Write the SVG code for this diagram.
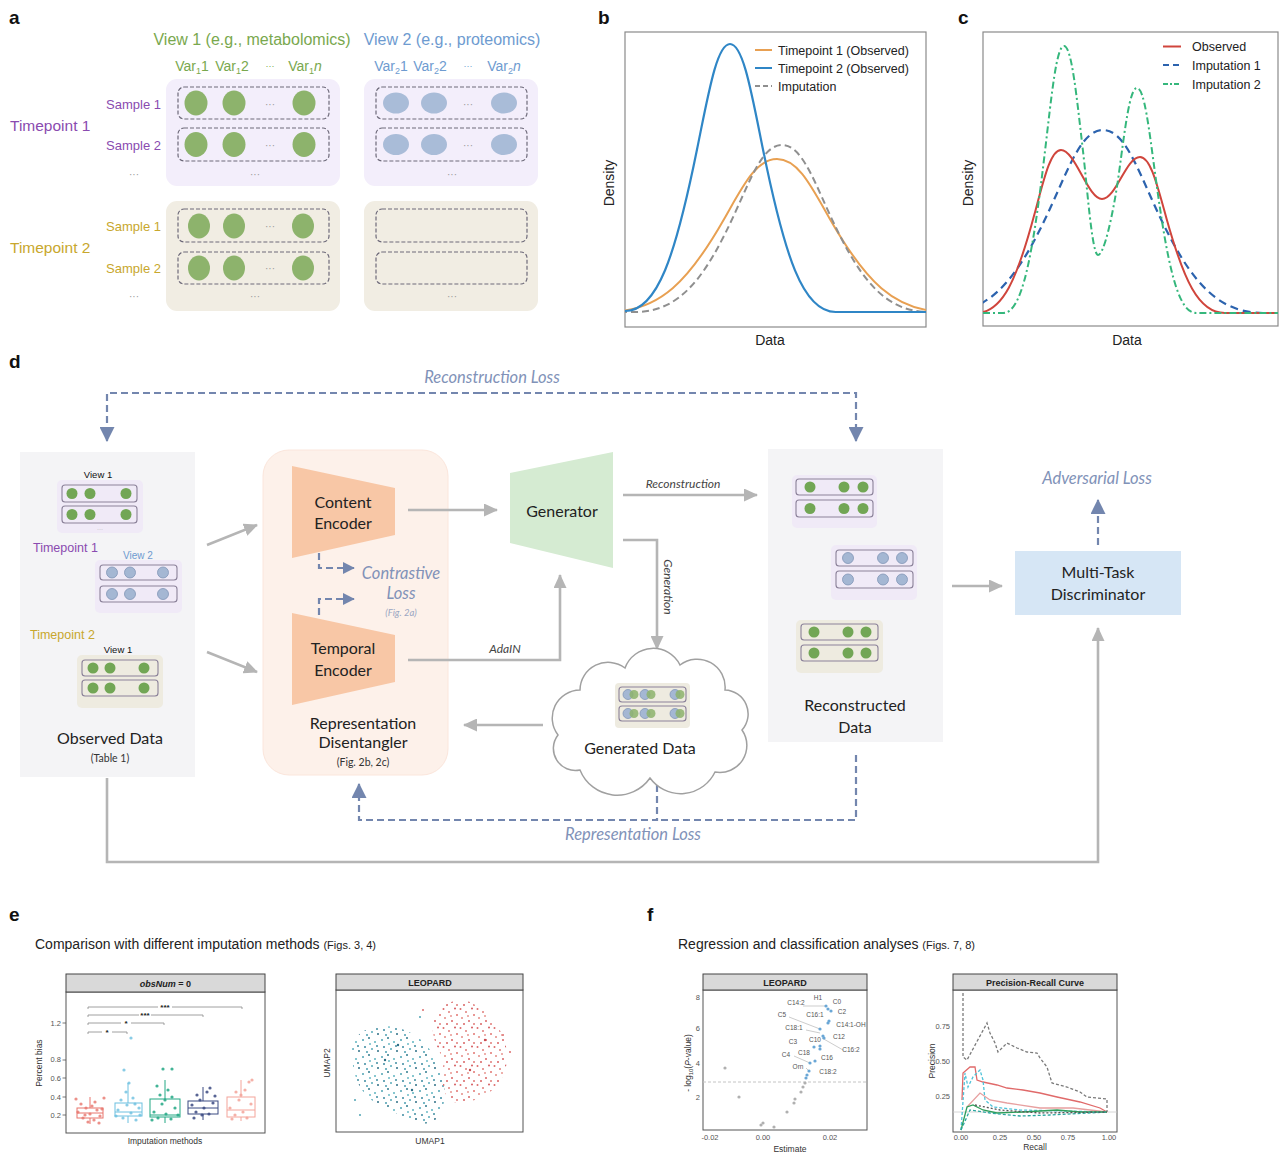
<svg xmlns="http://www.w3.org/2000/svg" width="1280" height="1159" viewBox="0 0 1280 1159">
<style>
text{font-family:"Liberation Sans",Arial,sans-serif;}
.pl{font-weight:bold;font-size:19px;fill:#111;}
.vt{font-size:16px;}
.var{font-size:14px;}
.smp{font-size:13px;text-anchor:end;}
.tp{font-size:15.5px;}
.dots{font-size:10px;fill:#999;text-anchor:middle;}
.bigbox{stroke:none;}
.row{fill:none;stroke:#6e6a7a;stroke-width:1.2;stroke-dasharray:4 2;}
.cg{fill:#8db36c;}
.cb{fill:#a9bcd8;}
.axl{font-size:14px;fill:#222;text-anchor:middle;}
.leg{font-size:12.5px;fill:#222;}
.frame{fill:none;stroke:#8a8a8a;stroke-width:1.2;}
.dd{font-family:Lato,"Open Sans",sans-serif;font-size:16px;fill:#222;text-anchor:middle;}
.ds{font-family:Lato,"Open Sans",sans-serif;font-size:10.5px;fill:#333;text-anchor:middle;}
.loss{font-family:Lato,"Open Sans",sans-serif;font-style:italic;font-size:16.5px;fill:#8192b8;text-anchor:middle;}
.lab{font-family:Lato,"Open Sans",sans-serif;font-style:italic;font-size:12px;fill:#444;text-anchor:middle;}
.gc{fill:none;stroke:#b5b5b5;stroke-width:2.6;}
.dc{fill:none;stroke:#7386ae;stroke-width:2.2;stroke-dasharray:7 4;}
.mL{fill:#f0eaf7;}
.mB{fill:#eeebe0;}
.mr{fill:none;stroke:#8b8199;stroke-width:1.1;}
.mg{fill:#72a655;}
.mbl{fill:#a4b7d3;stroke:#8196b6;stroke-width:0.8;}
.tiny{font-size:9.5px;fill:#111;text-anchor:middle;}
.tick{font-size:7.5px;fill:#555;}
.strip{fill:#d9d9d9;stroke:#444;stroke-width:1;}
.pf{fill:#fff;stroke:#555;stroke-width:1;}
.st{font-size:9px;font-weight:bold;fill:#222;text-anchor:middle;}
.vl{font-size:6.5px;fill:#555;text-anchor:middle;}
</style>
<defs>
<marker id="ag" viewBox="0 0 14 13" refX="13" refY="6.5" markerWidth="14" markerHeight="13" markerUnits="userSpaceOnUse" orient="auto"><path d="M0,0 L14,6.5 L0,13 z" fill="#b5b5b5"/></marker>
<marker id="ad" viewBox="0 0 14 14" refX="13" refY="7" markerWidth="15" markerHeight="15" markerUnits="userSpaceOnUse" orient="auto"><path d="M0,0 L14,7 L0,14 z" fill="#7386ae"/></marker>
<marker id="ads" viewBox="0 0 14 14" refX="13" refY="7" markerWidth="12" markerHeight="12" markerUnits="userSpaceOnUse" orient="auto"><path d="M0,0 L14,7 L0,14 z" fill="#7386ae"/></marker>
<clipPath id="cb"><rect x="625" y="32" width="301" height="295"/></clipPath>
<clipPath id="cc"><rect x="983" y="32" width="295" height="294"/></clipPath>
<pattern id="pt" width="19" height="17" patternUnits="userSpaceOnUse"><circle cx="2" cy="3" r="1" fill="#4fa3b3"/><circle cx="8" cy="1" r="1" fill="#2f7a8e"/><circle cx="14" cy="5" r="1" fill="#5fb4c0"/><circle cx="4" cy="10" r="1" fill="#3a8aa0"/><circle cx="11" cy="12" r="1" fill="#56aab8"/><circle cx="17" cy="14" r="1" fill="#2d6e86"/><circle cx="9" cy="7" r="1" fill="#6bbac6"/><circle cx="16" cy="9" r="1" fill="#3f8ea2"/><circle cx="6" cy="15" r="1" fill="#4a9db0"/></pattern>
<pattern id="pr" width="17" height="19" patternUnits="userSpaceOnUse"><circle cx="1.5" cy="2" r="1" fill="#dd6b6b"/><circle cx="7" cy="5" r="1" fill="#e07d7b"/><circle cx="13" cy="1.5" r="1" fill="#d45a5e"/><circle cx="3" cy="11" r="1" fill="#e58b86"/><circle cx="10" cy="14" r="1" fill="#d96566"/><circle cx="15" cy="8" r="1" fill="#e27470"/><circle cx="9" cy="9" r="1" fill="#e89590"/><circle cx="5" cy="17" r="1" fill="#d86262"/><circle cx="15" cy="17" r="1" fill="#e07a78"/></pattern>
</defs>
<rect width="1280" height="1159" fill="#fff"/>

<!-- Panel a -->
<g id="panel-a">
<text class="pl" x="9" y="24">a</text>
<text class="vt" x="252" y="45" text-anchor="middle" fill="#79a84e">View 1 (e.g., metabolomics)</text>
<text class="vt" x="452" y="45" text-anchor="middle" fill="#6e9bd0">View 2 (e.g., proteomics)</text>
<g class="var" fill="#79a84e" text-anchor="middle">
<text x="192" y="71">Var<tspan font-size="9" dy="3">1</tspan><tspan dy="-3">1</tspan></text>
<text x="232" y="71">Var<tspan font-size="9" dy="3">1</tspan><tspan dy="-3">2</tspan></text>
<text x="270" y="69" font-size="9">···</text>
<text x="305" y="71">Var<tspan font-size="9" dy="3">1</tspan><tspan dy="-3" font-style="italic">n</tspan></text>
</g>
<g class="var" fill="#6e9bd0" text-anchor="middle">
<text x="391" y="71">Var<tspan font-size="9" dy="3">2</tspan><tspan dy="-3">1</tspan></text>
<text x="430" y="71">Var<tspan font-size="9" dy="3">2</tspan><tspan dy="-3">2</tspan></text>
<text x="468" y="69" font-size="9">···</text>
<text x="504" y="71">Var<tspan font-size="9" dy="3">2</tspan><tspan dy="-3" font-style="italic">n</tspan></text>
</g>
<text class="tp" x="10" y="131" fill="#8a4bb0">Timepoint 1</text>
<text class="tp" x="10" y="253" fill="#c8a72d">Timepoint 2</text>
<g fill="#8a4bb0"><text class="smp" x="161" y="109">Sample 1</text><text class="smp" x="161" y="150">Sample 2</text></g>
<g fill="#c8a72d"><text class="smp" x="161" y="231">Sample 1</text><text class="smp" x="161" y="273">Sample 2</text></g>
<text class="dots" x="134" y="178">···</text>
<text class="dots" x="134" y="300">···</text>
<rect class="bigbox" x="166" y="79" width="174" height="107" rx="11" fill="#f3eefb"/>
<rect class="bigbox" x="364" y="79" width="174" height="107" rx="11" fill="#f3eefb"/>
<rect class="bigbox" x="166" y="201" width="174" height="110" rx="11" fill="#f1ede3"/>
<rect class="bigbox" x="364" y="201" width="174" height="110" rx="11" fill="#f1ede3"/>
<rect class="row" x="178" y="87" width="151" height="32" rx="6"/>
<rect class="row" x="178" y="128" width="151" height="33" rx="6"/>
<rect class="row" x="376" y="87" width="151" height="32" rx="6"/>
<rect class="row" x="376" y="128" width="151" height="33" rx="6"/>
<rect class="row" x="178" y="209" width="151" height="33" rx="6"/>
<rect class="row" x="178" y="252" width="151" height="32" rx="6"/>
<rect class="row" x="376" y="209" width="151" height="33" rx="6"/>
<rect class="row" x="376" y="252" width="151" height="32" rx="6"/>
<g class="cg">
<ellipse cx="196" cy="103" rx="11.5" ry="12.5"/><ellipse cx="234" cy="103" rx="11.5" ry="12.5"/><ellipse cx="304" cy="103" rx="11.5" ry="12.5"/>
<ellipse cx="196" cy="144.5" rx="11.5" ry="12.5"/><ellipse cx="234" cy="144.5" rx="11.5" ry="12.5"/><ellipse cx="304" cy="144.5" rx="11.5" ry="12.5"/>
<ellipse cx="199" cy="226" rx="11" ry="12.5"/><ellipse cx="234" cy="226" rx="11" ry="12.5"/><ellipse cx="303" cy="226" rx="11" ry="12.5"/>
<ellipse cx="199" cy="268" rx="11" ry="12.5"/><ellipse cx="234" cy="268" rx="11" ry="12.5"/><ellipse cx="303" cy="268" rx="11" ry="12.5"/>
</g>
<g class="cb">
<ellipse cx="396" cy="103" rx="13" ry="10.5"/><ellipse cx="434" cy="103" rx="13" ry="10.5"/><ellipse cx="504" cy="103" rx="13" ry="10.5"/>
<ellipse cx="396" cy="144.5" rx="13" ry="10.5"/><ellipse cx="434" cy="144.5" rx="13" ry="10.5"/><ellipse cx="504" cy="144.5" rx="13" ry="10.5"/>
</g>
<text class="dots" x="270" y="108">···</text><text class="dots" x="270" y="149">···</text>
<text class="dots" x="270" y="230">···</text><text class="dots" x="270" y="272">···</text>
<text class="dots" x="468" y="108">···</text><text class="dots" x="468" y="149">···</text>
<text class="dots" x="255" y="178">···</text><text class="dots" x="452" y="178">···</text>
<text class="dots" x="255" y="300">···</text><text class="dots" x="452" y="300">···</text>
</g>

<!-- Panel b -->
<g id="panel-b">
<text class="pl" x="598" y="24">b</text>
<rect class="frame" x="625" y="32" width="301" height="295"/>
<text class="axl" transform="translate(614,183) rotate(-90)">Density</text>
<text class="axl" x="770" y="345">Data</text>
<g clip-path="url(#cb)">
<path d="M607.4,312 C660.4,312 689.6,279.5 724,219.2 C742.6,186.7 755.8,159 777,159 C798.2,159 811.5,186.7 830,219.2 C864.5,279.5 893.6,312 946.6,312" fill="none" stroke="#e8a052" stroke-width="2"/>
<path d="M620,312 L634.8,312 C680.8,312 706.1,276.5 736,210.7 C752.1,175.3 763.6,145 782,145 C800.4,145 811.9,175.3 828,210.7 C857.9,276.5 883.2,312 929.2,312" fill="none" stroke="#8f8f8f" stroke-width="2" stroke-dasharray="7 4"/>
<path d="M620,311 L624.4,311 C657.4,312 675.6,255.1 697,149.5 C708.6,92.6 716.8,44 730,44 C743.2,44 751.5,92.6 763,149.5 C784.5,255.1 802.6,312 835.6,312 L930,312" fill="none" stroke="#2f86c6" stroke-width="2.2"/>
</g>
<line x1="755" y1="50" x2="772" y2="50" stroke="#e8a052" stroke-width="2"/>
<line x1="755" y1="68" x2="772" y2="68" stroke="#2f86c6" stroke-width="2"/>
<line x1="755" y1="86" x2="772" y2="86" stroke="#8f8f8f" stroke-width="2" stroke-dasharray="5 3"/>
<text class="leg" x="778" y="54.5">Timepoint 1 (Observed)</text>
<text class="leg" x="778" y="72.5">Timepoint 2 (Observed)</text>
<text class="leg" x="778" y="90.5">Imputation</text>
</g>

<!-- Panel c -->
<g id="panel-c">
<text class="pl" x="958" y="24">c</text>
<rect class="frame" x="983" y="32" width="295" height="294"/>
<text class="axl" transform="translate(973,183) rotate(-90)">Density</text>
<text class="axl" x="1127" y="345">Data</text>
<g clip-path="url(#cc)">
<path d="M943,313 C993,313 1020.5,274.1 1053,202 C1070.5,163.2 1083,130 1103,130 C1123,130 1135.5,163.2 1153,202 C1185.5,274.1 1213,313 1263,313 L1280,313" fill="none" stroke="#2c63ae" stroke-width="2.2" stroke-dasharray="8 5"/>
<path d="M976,313 C1002.7,313 1017.3,278.4 1034.5,214.1 C1043.8,179.5 1050.4,150 1061,150 C1075,150 1088,199 1102,199 C1116,199 1126,157 1140,157 C1150.6,157 1157.2,185.3 1166.5,218.4 C1183.7,279.9 1198.3,313 1224.8,313 L1280,313" fill="none" stroke="#d0453c" stroke-width="2"/>
<path d="M983,313 L1003.2,313 C1022.2,313 1032.7,256.3 1045,151.1 C1051.7,94.4 1056.4,46 1064,46 C1071.6,46 1076.4,94.4 1083,151.1 C1087,185 1092,255 1098,255 C1104,255 1113,215 1118.5,176.5 C1125,128.8 1129.6,88 1137,88 C1144.4,88 1149,128.8 1155.5,176.5 C1167.5,265.2 1177.7,313 1196.2,313 L1280,313" fill="none" stroke="#35b77c" stroke-width="2" stroke-dasharray="7 3 2 3"/>
</g>
<line x1="1163" y1="46.5" x2="1181" y2="46.5" stroke="#d0453c" stroke-width="2"/>
<line x1="1163" y1="65" x2="1181" y2="65" stroke="#2c63ae" stroke-width="2" stroke-dasharray="6 4"/>
<line x1="1163" y1="84" x2="1181" y2="84" stroke="#35b77c" stroke-width="2" stroke-dasharray="5 2 2 2"/>
<text class="leg" x="1192" y="51">Observed</text>
<text class="leg" x="1192" y="69.5">Imputation 1</text>
<text class="leg" x="1192" y="88.5">Imputation 2</text>
</g>

<!-- Panel d -->
<text class="pl" x="9" y="368">d</text>
<text class="loss" x="492" y="383">Reconstruction Loss</text>

<g id="observed-data">
<rect x="20" y="452" width="175" height="325" fill="#f4f4f6"/>
<text class="tiny" x="98" y="477.5">View 1</text>
<rect class="mL" x="57" y="480" width="86" height="53" rx="5"/>
<rect class="mr" x="62" y="485" width="75" height="17" rx="3"/><rect class="mr" x="62" y="506" width="75" height="17" rx="3"/>
<g class="mg"><circle cx="72" cy="493.5" r="5.5"/><circle cx="90" cy="493.5" r="5.5"/><circle cx="126" cy="493.5" r="5.5"/><circle cx="72" cy="514.5" r="5.5"/><circle cx="90" cy="514.5" r="5.5"/><circle cx="126" cy="514.5" r="5.5"/></g>
<text x="100" y="531" font-size="6" fill="#aaa" text-anchor="middle">···</text>
<text x="33" y="552" font-size="12.5" fill="#8a4bb0">Timepoint 1</text>
<text x="138" y="558.5" font-size="10" fill="#6e9bd0" text-anchor="middle">View 2</text>
<rect class="mL" x="95" y="560" width="87" height="53" rx="5"/>
<rect class="mr" x="100" y="565" width="77" height="15" rx="3"/><rect class="mr" x="100" y="586" width="77" height="16" rx="3"/>
<g class="mbl"><circle cx="112" cy="572.5" r="5.5"/><circle cx="130" cy="572.5" r="5.5"/><circle cx="163" cy="572.5" r="5.5"/><circle cx="112" cy="594" r="5.5"/><circle cx="130" cy="594" r="5.5"/><circle cx="163" cy="594" r="5.5"/></g>
<text x="30" y="639" font-size="12.5" fill="#c8a72d">Timepoint 2</text>
<text class="tiny" x="118" y="652.5">View 1</text>
<rect class="mB" x="77" y="655" width="86" height="53" rx="5"/>
<rect class="mr" x="82" y="660" width="76" height="16" rx="3"/><rect class="mr" x="82" y="680" width="76" height="16" rx="3"/>
<g class="mg"><circle cx="93" cy="668" r="5.5"/><circle cx="110" cy="668" r="5.5"/><circle cx="144" cy="668" r="5.5"/><circle cx="93" cy="688" r="5.5"/><circle cx="110" cy="688" r="5.5"/><circle cx="144" cy="688" r="5.5"/></g>
<text class="dd" x="110" y="743.5">Observed Data</text>
<text class="ds" x="110" y="761.5">(Table 1)</text>
</g>

<g id="representation-disentangler">
<rect x="263" y="450" width="185" height="325" rx="26" fill="#fdf1ea" stroke="#fbe6dc" stroke-width="1"/>
<text class="dd" x="363" y="728.5">Representation</text>
<text class="dd" x="363" y="747.5">Disentangler</text>
<text class="ds" x="363" y="765.5">(Fig. 2b, 2c)</text>
</g>

<g id="reconstructed-data">
<rect x="768" y="449" width="175" height="293" fill="#f4f4f6"/>
<rect class="mL" x="792" y="475" width="85" height="53" rx="5"/>
<rect class="mr" x="796" y="479" width="77" height="16" rx="3"/><rect class="mr" x="796" y="500" width="77" height="17" rx="3"/>
<g class="mg"><circle cx="810" cy="487" r="5.5"/><circle cx="844" cy="487" r="5.5"/><circle cx="863" cy="487" r="5.5"/><circle cx="810" cy="508.5" r="5.5"/><circle cx="844" cy="508.5" r="5.5"/><circle cx="863" cy="508.5" r="5.5"/></g>
<rect class="mL" x="831" y="545" width="86" height="55" rx="5"/>
<rect class="mr" x="836" y="550" width="77" height="16" rx="3"/><rect class="mr" x="836" y="571" width="77" height="17" rx="3"/>
<g class="mbl"><circle cx="848" cy="558" r="5.5"/><circle cx="883" cy="558" r="5.5"/><circle cx="902" cy="558" r="5.5"/><circle cx="848" cy="579.5" r="5.5"/><circle cx="883" cy="579.5" r="5.5"/><circle cx="902" cy="579.5" r="5.5"/></g>
<rect class="mB" x="796" y="620" width="87" height="53" rx="5"/>
<rect class="mr" x="801" y="624" width="77" height="16" rx="3"/><rect class="mr" x="801" y="645" width="77" height="16" rx="3"/>
<g class="mg"><circle cx="814" cy="632" r="5.5"/><circle cx="848" cy="632" r="5.5"/><circle cx="866" cy="632" r="5.5"/><circle cx="814" cy="653" r="5.5"/><circle cx="848" cy="653" r="5.5"/><circle cx="866" cy="653" r="5.5"/></g>
<text class="dd" x="855" y="710.5">Reconstructed</text>
<text class="dd" x="855" y="732.5">Data</text>
</g>

<g id="connectors">
<path class="dc" d="M480,393 L107,393 L107,441" marker-end="url(#ad)"/>
<path class="dc" d="M480,393 L856,393 L856,441" marker-end="url(#ad)"/>
<path class="dc" d="M657,785 L657,820 L359,820 L359,784" marker-end="url(#ad)"/>
<path class="dc" d="M856,755 L856,820 L657,820"/>
<path class="dc" d="M1098,545 L1098,500" marker-end="url(#ad)"/>
<path class="dc" d="M319,553 L319,568 L354,568" marker-end="url(#ads)"/>
<path class="dc" d="M319,615 L319,599 L354,599" marker-end="url(#ads)"/>
<path class="gc" d="M107,778 L107,862 L1098,862 L1098,628" marker-end="url(#ag)"/>
<path class="gc" d="M207,545 L257,525" marker-end="url(#ag)"/>
<path class="gc" d="M207,652 L257,672" marker-end="url(#ag)"/>
<path class="gc" d="M408,510 L497,510" marker-end="url(#ag)"/>
<path class="gc" d="M408,660 L560,660 L560,575" marker-end="url(#ag)"/>
<path class="gc" d="M623,495 L757,495" marker-end="url(#ag)"/>
<path class="gc" d="M623,540 L657,540 L657,649" marker-end="url(#ag)"/>
<path class="gc" d="M543,725 L464,725" marker-end="url(#ag)"/>
<path class="gc" d="M952,586 L1002,586" marker-end="url(#ag)"/>
<text class="lab" x="683" y="488">Reconstruction</text>
<text class="lab" x="505" y="653">AdaIN</text>
<text class="lab" transform="translate(664,587) rotate(90)">Generation</text>
<text class="loss" x="401" y="579">Contrastive</text>
<text class="loss" x="401" y="599">Loss</text>
<text class="loss" x="401" y="616" style="font-size:9.5px;fill:#9aa6c2">(Fig. 2a)</text>
<text class="loss" x="633" y="840">Representation Loss</text>
<text class="loss" x="1097" y="484">Adversarial Loss</text>
</g>

<g id="content-encoder">
<polygon points="292,466 395,488 395,535 292,558" fill="#f8c7a6"/>
<text class="dd" x="343" y="507.5">Content</text>
<text class="dd" x="343" y="528.5">Encoder</text>
</g>
<g id="temporal-encoder">
<polygon points="292,613 395,635 395,682 292,705" fill="#f8c7a6"/>
<text class="dd" x="343" y="653.5">Temporal</text>
<text class="dd" x="343" y="675.5">Encoder</text>
</g>
<g id="generator">
<polygon points="510,473 613,452 613,568 510,543" fill="#d5ebd2"/>
<text class="dd" x="562" y="516.5">Generator</text>
</g>
<g id="generated-data">
<path d="M580,770 A22,22 0 0 1 558,735 A28,28 0 0 1 580,690 A28,28 0 0 1 625,668 A30,30 0 0 1 680,665 A28,28 0 0 1 725,690 A24,24 0 0 1 742,730 A27,27 0 0 1 715,772 A38,38 0 0 1 650,778 A40,40 0 0 1 580,770 Z" fill="#fff" stroke="#a0a0a0" stroke-width="1.5"/>
<rect class="mB" x="615" y="683" width="75" height="45" rx="4"/>
<rect class="mr" x="619" y="687" width="67" height="15" rx="3"/><rect class="mr" x="619" y="706" width="67" height="15" rx="3"/>
<g class="mbl"><circle cx="628" cy="694.5" r="5"/><circle cx="645" cy="694.5" r="5"/><circle cx="675" cy="694.5" r="5"/><circle cx="628" cy="713.5" r="5"/><circle cx="645" cy="713.5" r="5"/><circle cx="675" cy="713.5" r="5"/></g>
<g fill="#8db36c" opacity="0.85"><circle cx="634" cy="694.5" r="4.5"/><circle cx="651" cy="694.5" r="4.5"/><circle cx="680" cy="694.5" r="4.5"/><circle cx="634" cy="713.5" r="4.5"/><circle cx="651" cy="713.5" r="4.5"/><circle cx="680" cy="713.5" r="4.5"/></g>
<text class="dd" x="640" y="753.5">Generated Data</text>
</g>
<g id="multi-task-discriminator">
<rect x="1015" y="551" width="166" height="64" fill="#d6e6f5"/>
<text class="dd" x="1098" y="577.5">Multi-Task</text>
<text class="dd" x="1098" y="599.5">Discriminator</text>
</g>

<!-- Panel e -->
<g id="panel-e">
<text class="pl" x="9" y="921">e</text>
<text x="35" y="949" font-size="14" fill="#222">Comparison with different imputation methods <tspan font-size="11">(Figs. 3, 4)</tspan></text>
<rect class="pf" x="66" y="992" width="199" height="141"/>
<rect class="strip" x="66" y="974" width="199" height="18"/>
<text class="st" x="165.5" y="987"><tspan font-style="italic">obsNum</tspan> = 0</text>
<g class="tick" text-anchor="end"><text x="61" y="1026">1.2</text><text x="61" y="1062">0.8</text><text x="61" y="1081">0.6</text><text x="61" y="1100">0.4</text><text x="61" y="1118">0.2</text></g>
<g stroke="#555" stroke-width="0.8"><line x1="62.5" y1="1023" x2="66" y2="1023"/><line x1="62.5" y1="1060" x2="66" y2="1060"/><line x1="62.5" y1="1078" x2="66" y2="1078"/><line x1="62.5" y1="1097" x2="66" y2="1097"/><line x1="62.5" y1="1115" x2="66" y2="1115"/></g>
<text transform="translate(42,1063) rotate(-90)" font-size="8.5" fill="#333" text-anchor="middle">Percent bias</text>
<text x="165" y="1144" font-size="8.5" fill="#333" text-anchor="middle">Imputation methods</text>
<g stroke="#888" stroke-width="0.8" fill="none">
<path d="M88,1009 V1007 H158 M172,1007 H242 V1009"/>
<path d="M88,1017 V1015 H139 M151,1015 H203 V1017"/>
<path d="M88,1025 V1023 H121 M131,1023 H164 V1025"/>
<path d="M88,1034 V1032 H102 M112,1032 H127 V1034"/>
</g>
<g font-size="8" font-weight="bold" fill="#222" text-anchor="middle"><text x="165" y="1010">***</text><text x="145" y="1018">***</text><text x="126" y="1026">*</text><text x="107" y="1035">*</text></g>
<g fill="none" stroke-width="1">
<g stroke="#e8756c"><rect x="77" y="1108" width="26" height="10"/><line x1="77" y1="1113" x2="103" y2="1113"/><line x1="90" y1="1108" x2="90" y2="1097"/><line x1="90" y1="1118" x2="90" y2="1124"/></g>
<g stroke="#6cc0e0"><rect x="115" y="1103" width="27" height="13"/><line x1="115" y1="1112" x2="142" y2="1112"/><line x1="128" y1="1103" x2="128" y2="1083"/><line x1="128" y1="1116" x2="128" y2="1123"/></g>
<g stroke="#22a884"><rect x="150" y="1099" width="30" height="18"/><line x1="150" y1="1115" x2="180" y2="1115"/><line x1="165" y1="1099" x2="165" y2="1080"/><line x1="165" y1="1117" x2="165" y2="1123"/></g>
<g stroke="#3b4a82"><rect x="188" y="1101" width="30" height="13"/><line x1="188" y1="1108" x2="218" y2="1108"/><line x1="203" y1="1101" x2="203" y2="1087"/><line x1="203" y1="1114" x2="203" y2="1120"/></g>
<g stroke="#f4a49a"><rect x="227" y="1097" width="28" height="20"/><line x1="227" y1="1110" x2="255" y2="1110"/><line x1="241" y1="1097" x2="241" y2="1080"/><line x1="241" y1="1117" x2="241" y2="1121"/></g>
</g>
<g fill="#e8756c" opacity="0.8"><circle cx="78" cy="1112" r="1.6"/><circle cx="83" cy="1118" r="1.6"/><circle cx="86" cy="1108" r="1.6"/><circle cx="90" cy="1114" r="1.6"/><circle cx="94" cy="1120" r="1.6"/><circle cx="97" cy="1110" r="1.6"/><circle cx="100" cy="1116" r="1.6"/><circle cx="81" cy="1104" r="1.6"/><circle cx="88" cy="1122" r="1.6"/><circle cx="95" cy="1102" r="1.6"/><circle cx="102" cy="1109" r="1.6"/><circle cx="76" cy="1099" r="1.6"/><circle cx="92" cy="1106" r="1.6"/><circle cx="85" cy="1115" r="1.6"/><circle cx="99" cy="1123" r="1.6"/><circle cx="104" cy="1098" r="1.6"/></g>
<g fill="#6cc0e0" opacity="0.8"><circle cx="118" cy="1110" r="1.6"/><circle cx="123" cy="1118" r="1.6"/><circle cx="127" cy="1105" r="1.6"/><circle cx="131" cy="1113" r="1.6"/><circle cx="136" cy="1120" r="1.6"/><circle cx="139" cy="1108" r="1.6"/><circle cx="121" cy="1100" r="1.6"/><circle cx="126" cy="1092" r="1.6"/><circle cx="133" cy="1098" r="1.6"/><circle cx="129" cy="1083" r="1.6"/><circle cx="124" cy="1070" r="1.6"/><circle cx="131" cy="1038" r="1.6"/><circle cx="116" cy="1116" r="1.6"/><circle cx="140" cy="1115" r="1.6"/><circle cx="135" cy="1104" r="1.6"/></g>
<g fill="#22a884" opacity="0.85"><circle cx="154" cy="1112" r="1.6"/><circle cx="158" cy="1118" r="1.6"/><circle cx="162" cy="1104" r="1.6"/><circle cx="166" cy="1114" r="1.6"/><circle cx="171" cy="1119" r="1.6"/><circle cx="175" cy="1108" r="1.6"/><circle cx="160" cy="1095" r="1.6"/><circle cx="168" cy="1090" r="1.6"/><circle cx="172" cy="1097" r="1.6"/><circle cx="157" cy="1086" r="1.6"/><circle cx="163" cy="1069" r="1.6"/><circle cx="172" cy="1069" r="1.6"/><circle cx="178" cy="1115" r="1.6"/><circle cx="152" cy="1120" r="1.6"/><circle cx="165" cy="1100" r="1.6"/></g>
<g fill="#3b4a82" opacity="0.85"><circle cx="192" cy="1105" r="1.6"/><circle cx="196" cy="1112" r="1.6"/><circle cx="200" cy="1100" r="1.6"/><circle cx="204" cy="1108" r="1.6"/><circle cx="209" cy="1114" r="1.6"/><circle cx="213" cy="1103" r="1.6"/><circle cx="197" cy="1095" r="1.6"/><circle cx="207" cy="1092" r="1.6"/><circle cx="215" cy="1096" r="1.6"/><circle cx="194" cy="1118" r="1.6"/><circle cx="210" cy="1088" r="1.6"/><circle cx="202" cy="1115" r="1.6"/></g>
<g fill="#f4a49a" opacity="0.85"><circle cx="230" cy="1108" r="1.6"/><circle cx="235" cy="1115" r="1.6"/><circle cx="239" cy="1100" r="1.6"/><circle cx="243" cy="1112" r="1.6"/><circle cx="247" cy="1118" r="1.6"/><circle cx="251" cy="1104" r="1.6"/><circle cx="236" cy="1092" r="1.6"/><circle cx="245" cy="1090" r="1.6"/><circle cx="249" cy="1082" r="1.6"/><circle cx="252" cy="1080" r="1.6"/><circle cx="232" cy="1119" r="1.6"/><circle cx="241" cy="1095" r="1.6"/></g>

<rect class="pf" x="336" y="990" width="187" height="142"/>
<rect class="strip" x="336" y="974" width="187" height="16"/>
<text class="st" x="430" y="985.5">LEOPARD</text>
<text transform="translate(330,1063) rotate(-90)" font-size="8.5" fill="#333" text-anchor="middle">UMAP2</text>
<text x="430" y="1144" font-size="8.5" fill="#333" text-anchor="middle">UMAP1</text>
<path d="M352,1052 C352,1032 372,1023 395,1027 C418,1032 432,1048 440,1068 C448,1090 446,1118 430,1123 C412,1127 398,1112 382,1106 C363,1098 352,1080 352,1052 Z" fill="url(#pt)"/>
<path d="M433,1025 C436,1005 455,996 470,1002 C490,1011 509,1035 507,1060 C505,1085 486,1100 462,1103 C443,1105 440,1082 444,1062 C440,1050 431,1040 433,1025 Z" fill="url(#pr)"/>
<g fill="#4fa3b3"><circle cx="355" cy="1100" r="1"/><circle cx="420" cy="1017" r="1"/><circle cx="360" cy="1115" r="1"/><circle cx="385" cy="1060" r="1.2" fill="#2d6e86"/><circle cx="412" cy="1090" r="1.2" fill="#2d6e86"/><circle cx="398" cy="1045" r="1.2" fill="#2d6e86"/></g>
<g fill="#dd6b6b"><circle cx="503" cy="1035" r="1"/><circle cx="510" cy="1052" r="1"/><circle cx="423" cy="1010" r="1"/><circle cx="470" cy="1070" r="1.2" fill="#c94b50"/><circle cx="485" cy="1040" r="1.2" fill="#c94b50"/></g>
</g>

<!-- Panel f -->
<g id="panel-f">
<text class="pl" x="647" y="921">f</text>
<text x="678" y="949" font-size="14" fill="#222">Regression and classification analyses <tspan font-size="11">(Figs. 7, 8)</tspan></text>
<rect class="pf" x="703" y="990" width="164" height="140"/>
<rect class="strip" x="703" y="974" width="164" height="16"/>
<text class="st" x="785" y="985.5">LEOPARD</text>
<g class="tick" text-anchor="end"><text x="700" y="1000">8</text><text x="700" y="1031">6</text><text x="700" y="1066">4</text><text x="700" y="1100">2</text></g>
<g class="tick" text-anchor="middle"><text x="710" y="1140">-0.02</text><text x="763" y="1140">0.00</text><text x="830" y="1140">0.02</text></g>
<text x="790" y="1152" font-size="8.5" fill="#333" text-anchor="middle">Estimate</text>
<text transform="translate(691,1063) rotate(-90)" font-size="8.5" fill="#333" text-anchor="middle">- log<tspan font-size="6" dy="2">10</tspan><tspan dy="-2">(</tspan><tspan font-style="italic">P</tspan>-value)</text>
<line x1="703" y1="1082" x2="867" y2="1082" stroke="#c4c4c4" stroke-width="1" stroke-dasharray="3 2"/>
<g fill="#b0b0b0"><circle cx="725" cy="1068" r="1.6"/><circle cx="739" cy="1097" r="1.6"/><circle cx="761" cy="1125" r="1.6"/><circle cx="763" cy="1123" r="1.6"/><circle cx="774" cy="1127" r="1.6"/><circle cx="787" cy="1112" r="1.6"/><circle cx="794" cy="1103" r="1.6"/><circle cx="795" cy="1099" r="1.6"/><circle cx="801" cy="1092" r="1.6"/><circle cx="803" cy="1087" r="1.6"/><circle cx="805" cy="1083" r="1.6"/></g>
<g stroke="#999" stroke-width="0.5">
<line x1="803" y1="1006" x2="826" y2="1006"/><line x1="789" y1="1017" x2="820" y2="1029"/><line x1="806" y1="1030" x2="820" y2="1033"/><line x1="822" y1="1038" x2="843" y2="1050"/><line x1="794" y1="1056" x2="810" y2="1063"/><line x1="806" y1="1068" x2="809" y2="1071"/>
</g>
<g fill="#6aa7d6"><circle cx="826" cy="1006" r="1.6"/><circle cx="828" cy="1009" r="1.6"/><circle cx="831" cy="1011" r="1.6"/><circle cx="829" cy="1021" r="1.6"/><circle cx="828" cy="1023" r="1.6"/><circle cx="820" cy="1029" r="1.6"/><circle cx="823" cy="1036" r="1.6"/><circle cx="824" cy="1038" r="1.6"/><circle cx="820" cy="1046" r="1.6"/><circle cx="814" cy="1047" r="1.6"/><circle cx="820" cy="1049" r="1.6"/><circle cx="810" cy="1063" r="1.6"/><circle cx="815" cy="1061" r="1.6"/><circle cx="809" cy="1071" r="1.6"/><circle cx="807" cy="1075" r="1.6"/><circle cx="806" cy="1078" r="1.6"/></g>
<g class="vl"><text x="818" y="1000">H1</text><text x="837" y="1004">C0</text><text x="796" y="1005">C14:2</text><text x="842" y="1014">C2</text><text x="782" y="1017">C5</text><text x="815" y="1017">C16:1</text><text x="851" y="1027">C14:1-OH</text><text x="794" y="1030">C18:1</text><text x="839" y="1039">C12</text><text x="793" y="1044">C3</text><text x="815" y="1042">C10</text><text x="851" y="1052">C16:2</text><text x="786" y="1057">C4</text><text x="804" y="1055">C18</text><text x="827" y="1060">C16</text><text x="798" y="1069">Orn</text><text x="828" y="1074">C18:2</text></g>

<rect class="pf" x="953" y="990" width="164" height="142"/>
<rect class="strip" x="953" y="974" width="164" height="16"/>
<text class="st" x="1035" y="985.5">Precision-Recall Curve</text>
<g class="tick" text-anchor="end"><text x="950" y="1029">0.75</text><text x="950" y="1064">0.50</text><text x="950" y="1099">0.25</text></g>
<g class="tick" text-anchor="middle"><text x="961" y="1140">0.00</text><text x="1000" y="1140">0.25</text><text x="1034" y="1140">0.50</text><text x="1068" y="1140">0.75</text><text x="1109" y="1140">1.00</text></g>
<text x="1035" y="1150" font-size="8.5" fill="#333" text-anchor="middle">Recall</text>
<text transform="translate(935,1061) rotate(-90)" font-size="8.5" fill="#333" text-anchor="middle">Precision</text>
<line x1="953" y1="1112" x2="1117" y2="1112" stroke="#ccc" stroke-width="0.8"/>
<g fill="none" stroke-width="1.3">
<polyline stroke="#7a7a7a" stroke-dasharray="3 2" points="963,993 963,1057 967,1060 987,1023 990,1033 995,1043 998,1052 1007,1043 1017,1048 1027,1052 1037,1053 1040,1058 1047,1067 1052,1083 1067,1087 1080,1092 1087,1097 1097,1098 1107,1099 1107,1112"/>
<polyline stroke="#e06a6a" points="962,1100 963,1073 970,1067 975,1067 977,1080 983,1082 997,1085 1007,1088 1023,1090 1040,1093 1057,1097 1080,1102 1100,1108 1107,1112"/>
<polyline stroke="#4fc3d9" stroke-dasharray="3 2" points="961,1130 965,1073 968,1087 973,1077 980,1070 983,1080 985,1100 993,1107 1020,1110 1107,1112"/>
<polyline stroke="#e7a0a0" points="967,1107 980,1093 990,1100 1007,1103 1040,1108 1073,1108 1107,1112"/>
<polyline stroke="#2f9e5a" points="961,1130 967,1107 973,1105 983,1110 997,1113 1023,1112 1057,1110 1080,1112 1107,1112"/>
<polyline stroke="#2aa6a0" stroke-dasharray="3 2" points="961,1130 970,1110 990,1113 1020,1116 1050,1115 1107,1112"/>
<polyline stroke="#555" stroke-dasharray="2 2" points="975,1105 1000,1110 1040,1113 1107,1112"/>
</g>
</g>
</svg>
